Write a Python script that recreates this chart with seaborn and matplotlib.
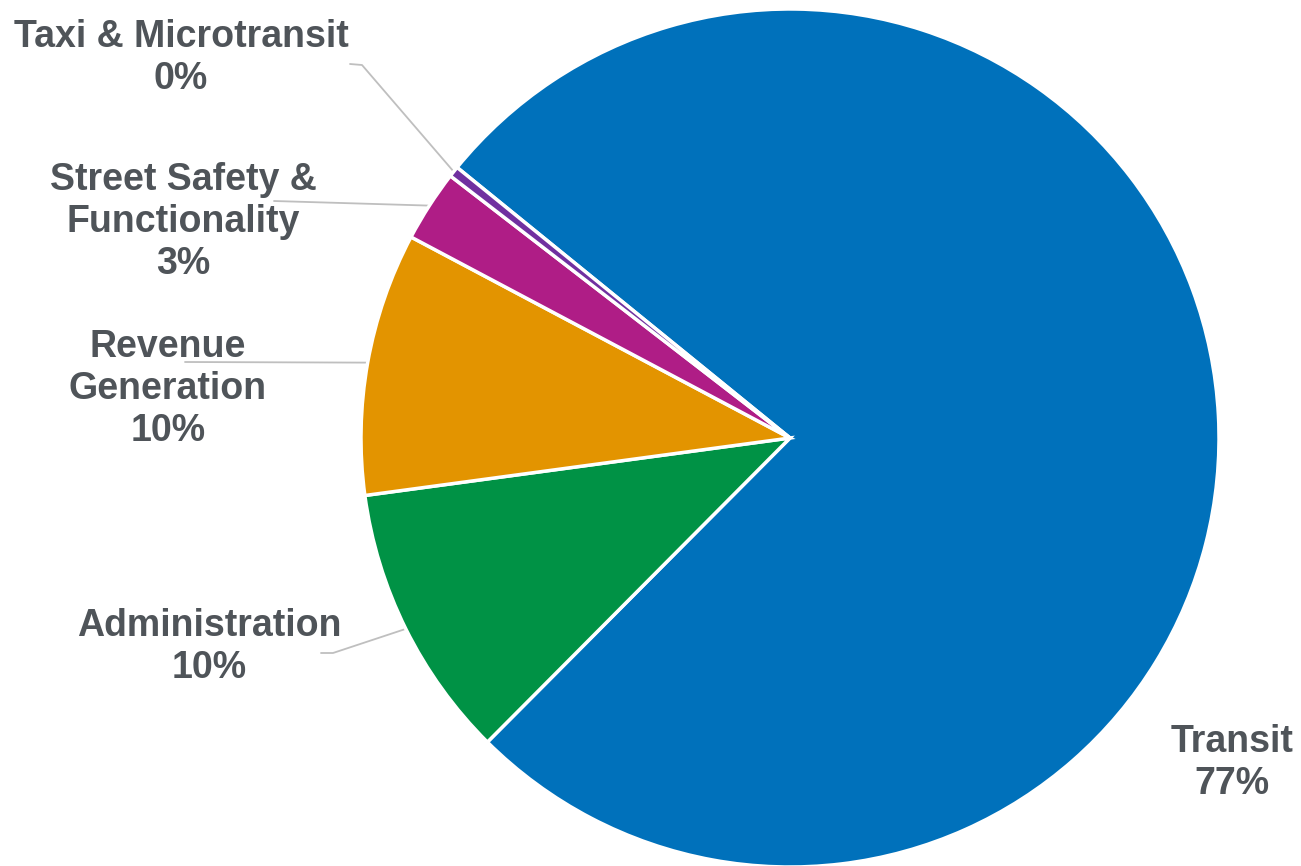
import numpy as np
import seaborn as sns
import matplotlib.pyplot as plt

# slice data, clockwise from the top-left
categories = ["Transit", "Administration", "Revenue\nGeneration",
              "Street Safety &\nFunctionality", "Taxi & Microtransit"]
shares = [76.6, 10.4, 9.9, 2.7, 0.4]
pct_labels = ["77%", "10%", "10%", "3%", "0%"]
colors = ["#0071BB", "#009245", "#E39400", "#AF1D86", "#7030A0"]

# pie geometry in pixels (centre and radius in the 1301x866 canvas)
CX, CY, R = 790, 438, 429
W, H = 1301, 866


def px(x, y):
    return (x - CX) / R, (CY - y) / R


def main():
    sns.set_theme(style="white")
    plt.rcParams["font.family"] = ["Liberation Sans", "DejaVu Sans"]

    fig = plt.figure(figsize=(W / 100, H / 100), dpi=100)
    ax = fig.add_axes([0, 0, 1, 1])
    wedges, _ = ax.pie(shares, colors=sns.color_palette(colors), startangle=140.9,
                       counterclock=False, radius=1,
                       wedgeprops=dict(edgecolor="white", linewidth=2.5))
    x0, y1 = px(0, 0)
    x1, y0 = px(W, H)
    ax.set_xlim(x0, x1)
    ax.set_ylim(y0, y1)
    ax.axis("off")

    # label centres and leader-line start points (pixels); None = no leader
    label_pos = [(1232, 763), (209, 647), (168, 389), (183, 222), (181, 58)]
    leaders = [None, [(321, 653), (333, 653)], [(185, 362)], [(274, 201)],
               [(350, 64), (362, 65)]]

    txt_color = "#4F5459"
    for w, cat, pct, pos, lead in zip(wedges, categories, pct_labels, label_pos, leaders):
        tx, ty = px(*pos)
        ax.text(tx, ty, f"{cat}\n{pct}", ha="center", va="center", fontsize=27,
                fontweight="bold", color=txt_color, linespacing=1.22)
        if lead is not None:
            mid = np.deg2rad((w.theta1 + w.theta2) / 2)
            pts = [px(*p) for p in lead] + [(np.cos(mid), np.sin(mid))]
            xs, ys = zip(*pts)
            ax.plot(xs, ys, color="#BFBFBF", lw=1.3, zorder=0)

    fig.savefig("out.png", dpi=100)


if __name__ == "__main__":
    main()
